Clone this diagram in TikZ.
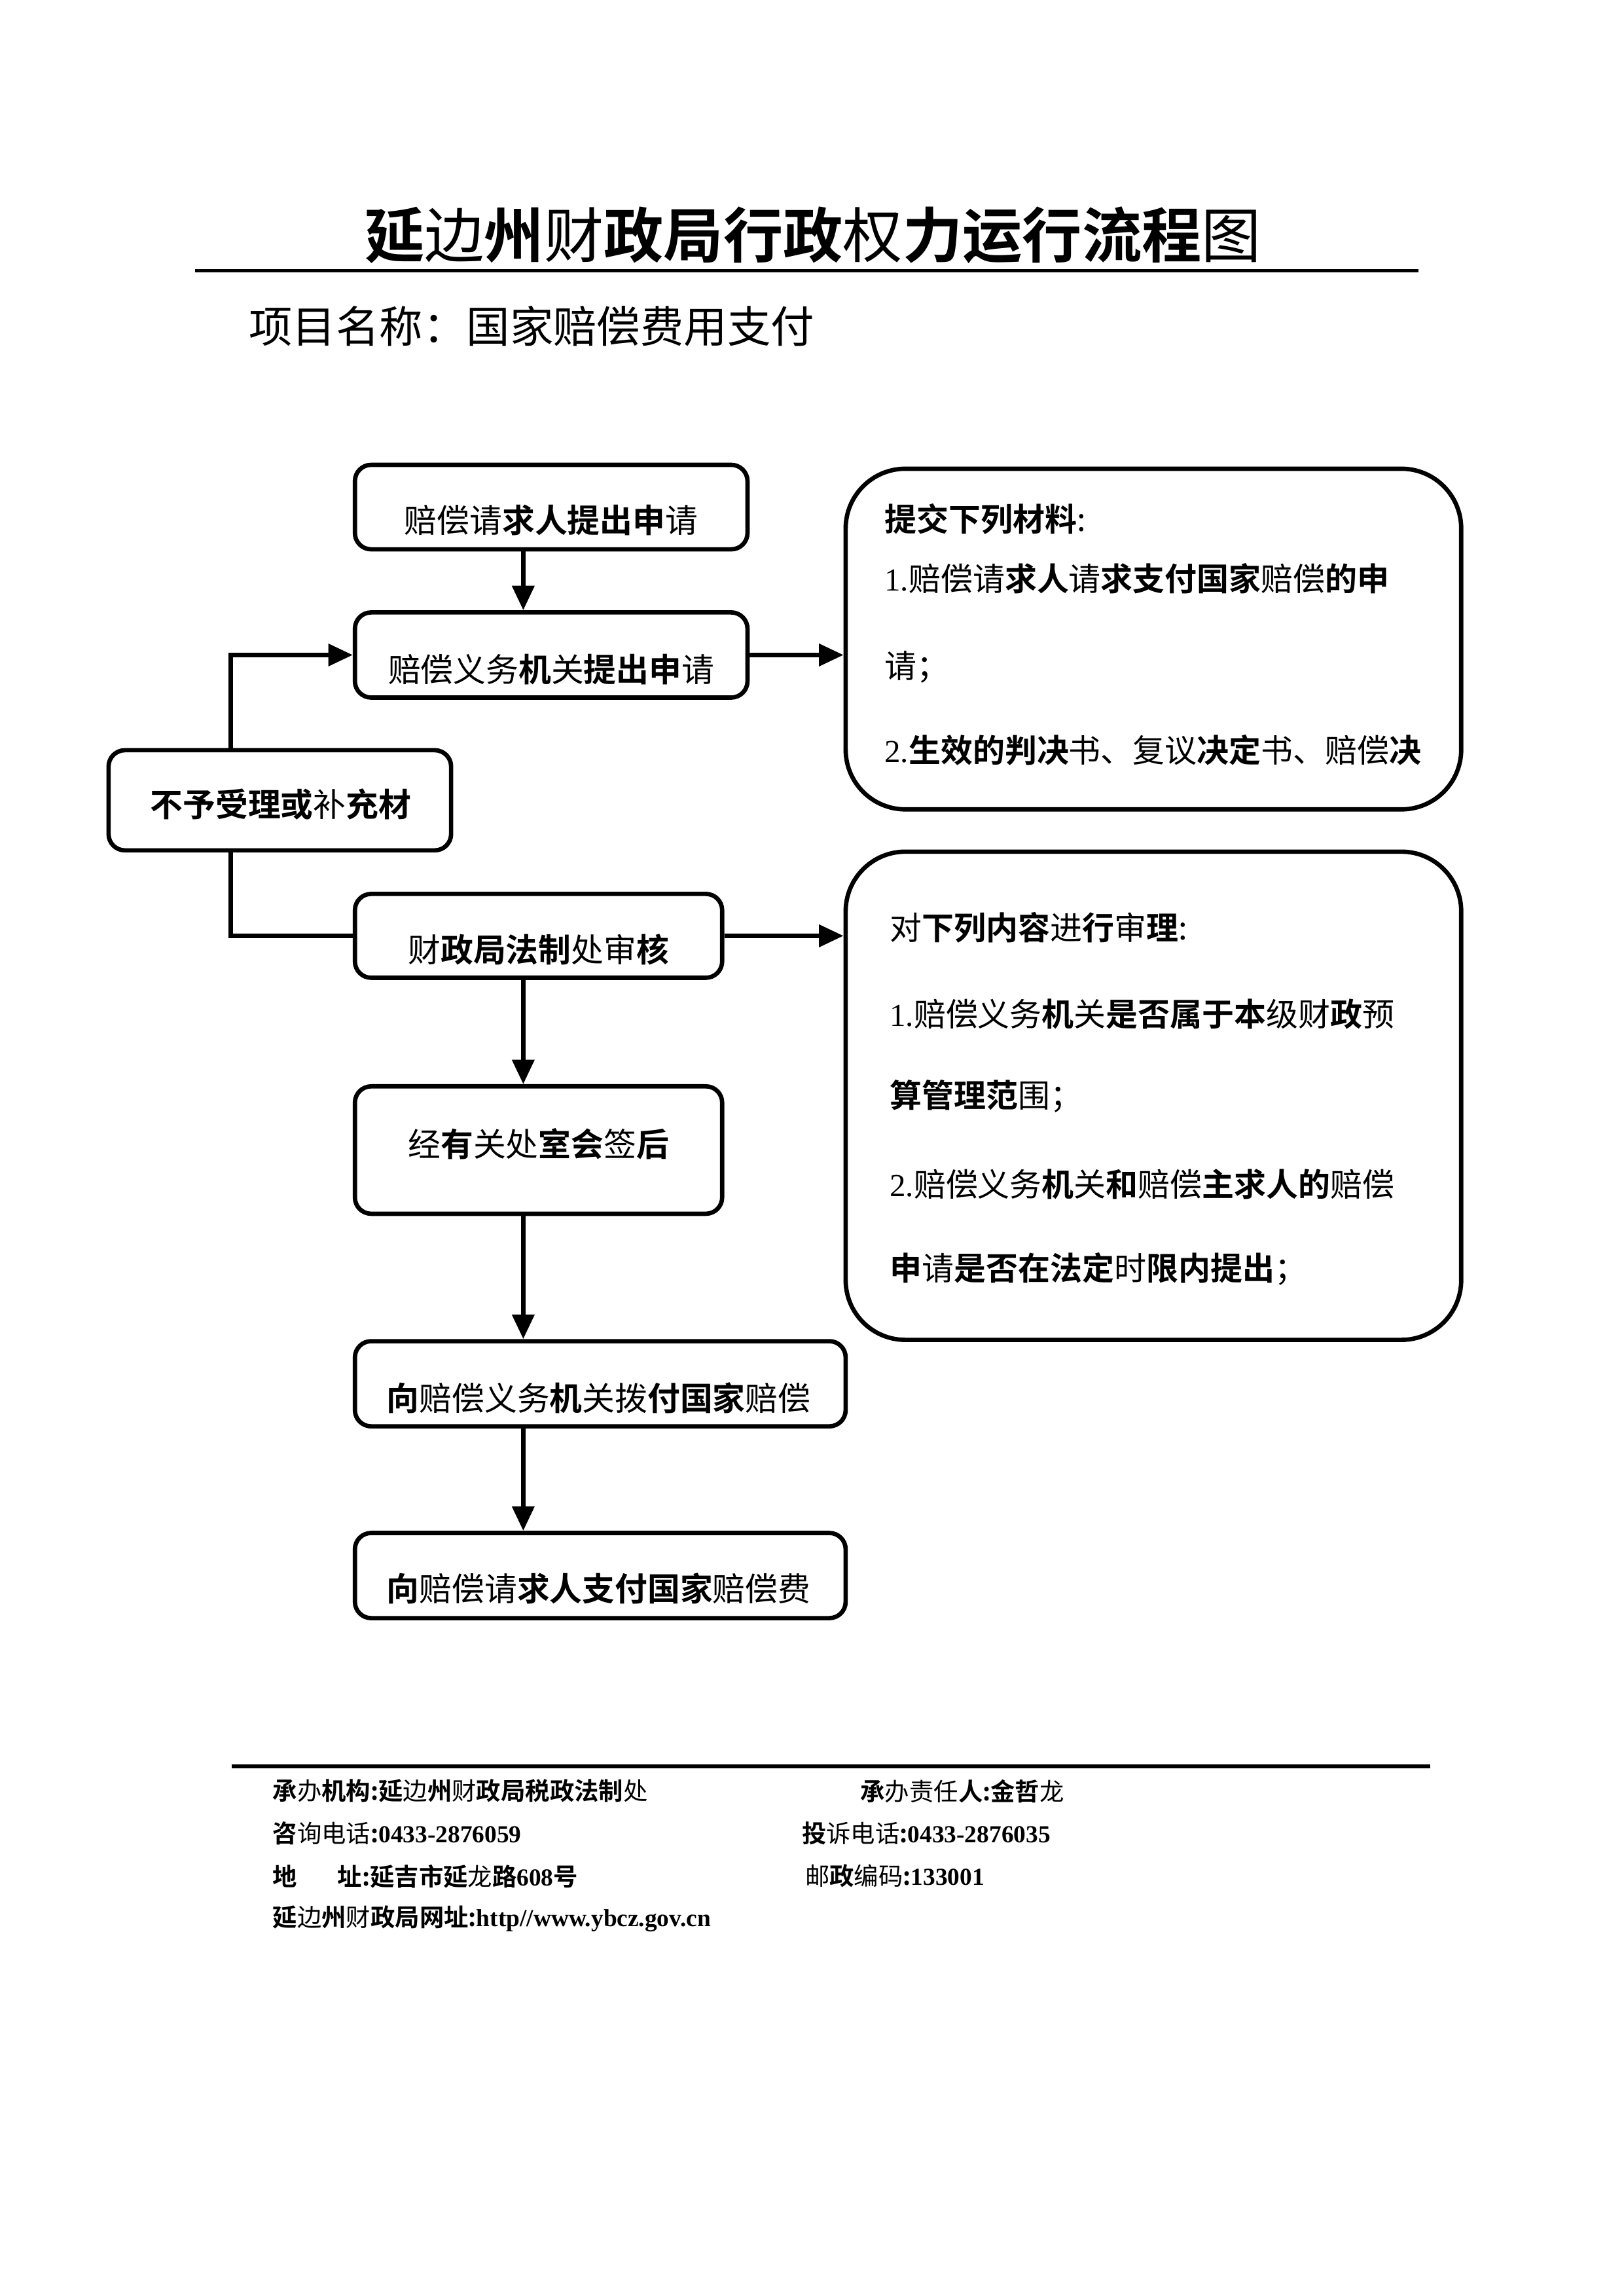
\documentclass[tikz,border=0pt]{standalone}
\usepackage{fontspec}
\setmainfont{Noto Sans CJK SC}[BoldFont={Noto Sans CJK SC Bold}]
\newfontfamily\latserif{Liberation Serif}
\usetikzlibrary{arrows.meta}
\newlength\pxu
\setlength\pxu{0.084074mm}
\newcommand\bb[1]{{\bfseries #1}}
\newcommand\ser[1]{{\latserif #1}}
\newcommand\fnum[1]{{\latserif\bfseries #1}}
\begin{document}
\begin{tikzpicture}[x=0.084074mm, y=-0.084074mm,
  box/.style={draw, line width=1.6pt, rounded corners=6pt, inner sep=0pt},
  bigbox/.style={draw, line width=1.6pt, rounded corners=22pt, inner sep=0pt},
  txt/.style={inner sep=0pt, font=\fontsize{12pt}{14pt}\selectfont},
  rtxt/.style={inner sep=0pt, anchor=west, font=\fontsize{11.8pt}{14pt}\selectfont},
  ftxt/.style={inner sep=0pt, anchor=west, font=\fontsize{9pt}{11pt}\selectfont},
  arr/.style={line width=1.6pt, -{Triangle[length=9pt,width=8pt]}},
  ln/.style={line width=1.6pt}
]
\useasboundingbox (0,0) rectangle (2497.48,3531.72);

% title
\node[inner sep=0pt, font=\fontsize{22pt}{26pt}\selectfont] (title) at (1251,362)
  {\bb{延}边\bb{州}财\bb{政局行政}权\bb{力运行流程}图};
\coordinate (tl1) at (300,416);
\coordinate (tl2) at (2182,416);
\draw[line width=1.2pt] (tl1) -- (tl2);
\node[inner sep=0pt, font=\fontsize{16pt}{19pt}\selectfont] (sub) at (818,502)
  {项目名称：国家赔偿费用支付};

% boxes
\node[box, minimum width=604\pxu, minimum height=130\pxu] (b1) at (848,780) {};
\node[txt] (t1) at (848,800) {赔偿请\bb{求人提出申}请};
\node[box, minimum width=604\pxu, minimum height=131\pxu] (b2) at (848,1007.5) {};
\node[txt] (t2) at (848,1030) {赔偿义务\bb{机}关\bb{提出申}请};
\node[box, minimum width=527\pxu, minimum height=154\pxu] (b3) at (430.5,1231) {};
\node[txt] (t3) at (432,1237) {\bb{不予受理或}补\bb{充材}};
\node[box, minimum width=565\pxu, minimum height=129\pxu] (b4) at (828.5,1439.5) {};
\node[txt] (t4) at (828.5,1461) {财\bb{政局法制}处审\bb{核}};
\node[box, minimum width=565\pxu, minimum height=196\pxu] (b5) at (828.5,1769) {};
\node[txt] (t5) at (828.5,1760) {经\bb{有}关处\bb{室会}签\bb{后}};
\node[box, minimum width=755\pxu, minimum height=131\pxu] (b6) at (923.5,2128.5) {};
\node[txt] (t6) at (921,2150) {\bb{向}赔偿义务\bb{机}关拨\bb{付国家}赔偿};
\node[box, minimum width=755\pxu, minimum height=131\pxu] (b7) at (923.5,2423.5) {};
\node[txt] (t7) at (921,2443) {\bb{向}赔偿请\bb{求人支付国家}赔偿费};

% right boxes
\node[bigbox, minimum width=947\pxu, minimum height=524\pxu] (r1) at (1774.5,983) {};
\node[rtxt] (r1a) at (1360,798) {\bb{提交下列材料}:};
\node[rtxt] (r1b) at (1360,890) {\ser{1.}赔偿请\bb{求人}请\bb{求支付国家}赔偿\bb{的申}};
\node[rtxt] (r1c) at (1360,1026) {请；};
\node[rtxt] (r1d) at (1360,1154) {\ser{2.}\bb{生效的判决}书、复议\bb{决定}书、赔偿\bb{决}};

\node[bigbox, minimum width=947\pxu, minimum height=751\pxu] (r2) at (1774.5,1685.5) {};
\node[rtxt] (r2a) at (1368,1427) {对\bb{下列内容}进\bb{行}审\bb{理}:};
\node[rtxt] (r2b) at (1368,1560) {\ser{1.}赔偿义务\bb{机}关\bb{是否属于本}级财\bb{政}预};
\node[rtxt] (r2c) at (1368,1686) {\bb{算管理范}围；};
\node[rtxt] (r2d) at (1368,1822) {\ser{2.}赔偿义务\bb{机}关\bb{和}赔偿\bb{主求人的}赔偿};
\node[rtxt] (r2e) at (1368,1952) {\bb{申}请\bb{是否在法定}时\bb{限内提出}；};

% connectors
\coordinate (ax) at (805,0);
\coordinate (lx) at (355,0);
\draw[arr] (b1.south -| ax) -- (b2.north -| ax);
\draw[arr] (b4.south -| ax) -- (b5.north -| ax);
\draw[arr] (b5.south -| ax) -- (b6.north -| ax);
\draw[arr] (b6.south -| ax) -- (b7.north -| ax);
\draw[arr] (b2.east) -- (b2.east -| r1.west);
\draw[arr] (b4.east) -- (b4.east -| r2.west);
\draw[arr] (b3.north -| lx) |- (b2.west);
\draw[ln] (b3.south -| lx) |- (b4.west);

% footer
\coordinate (fl1) at (356,2717);
\coordinate (fl2) at (2200,2717);
\draw[line width=1.4pt] (fl1) -- (fl2);
\node[ftxt] (f1) at (419,2755) {\bb{承}办\bb{机构:延}边\bb{州}财\bb{政局税政法制}处};
\node[ftxt] (f2) at (1323,2755) {\bb{承}办责任\bb{人:金哲}龙};
\node[ftxt] (f3) at (419,2820) {\bb{咨}询电话\bb{:}\fnum{0433-2876059}};
\node[ftxt] (f4) at (1233,2820) {\bb{投}诉电话\bb{:}\fnum{0433-2876035}};
\node[ftxt] (f5) at (419,2886) {\bb{地}\hspace{62\pxu}\bb{址:延吉市延}龙\bb{路}\fnum{608}\bb{号}};
\node[ftxt] (f6) at (1238,2886) {邮\bb{政}编码\bb{:}\fnum{133001}};
\node[ftxt] (f7) at (419,2951) {\bb{延}边\bb{州}财\bb{政局网址:}\fnum{http//www.ybcz.gov.cn}};
\end{tikzpicture}
\end{document}
